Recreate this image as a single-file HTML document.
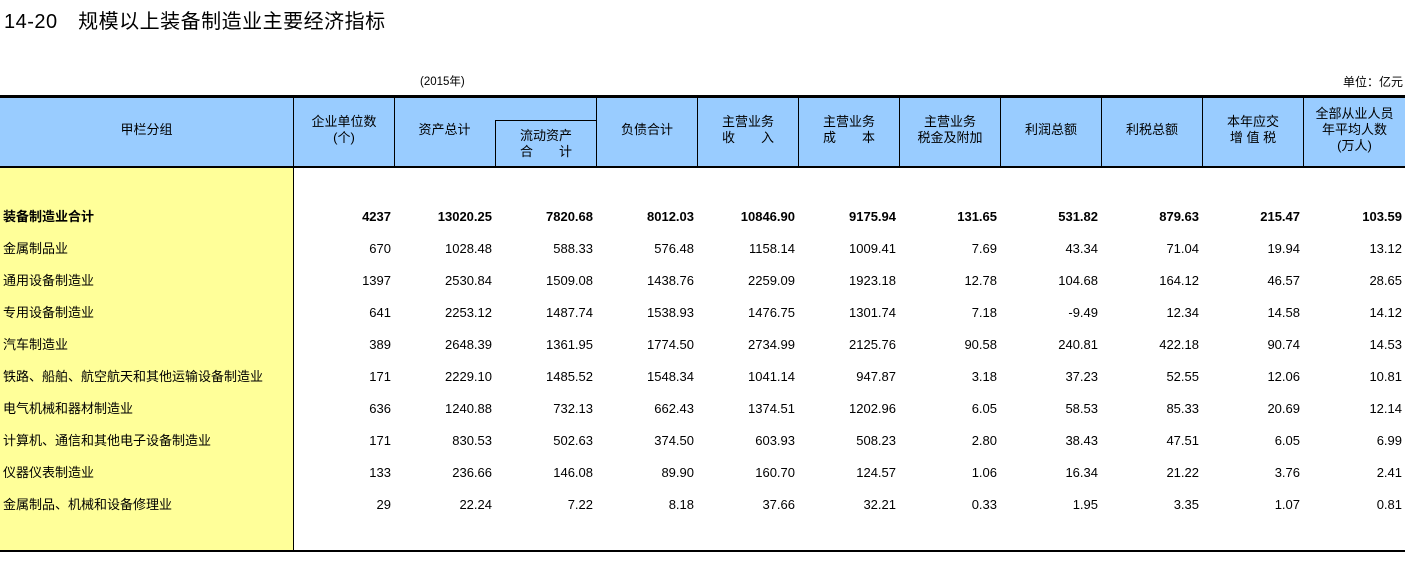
<!DOCTYPE html>
<html><head><meta charset="utf-8"><style>
body{margin:0;width:1405px;height:585px;background:#fff;position:relative;overflow:hidden;font-family:"Liberation Sans","Noto Sans CJK SC",sans-serif;color:#000}
.a{position:absolute}
.t{left:4px;top:5px;font-size:20px;letter-spacing:0.5px}
.hdr{left:0;top:95px;width:1405px;height:73px;background:#99ccff;border-top:3px solid #000;border-bottom:2px solid #000;box-sizing:border-box}
.vl{position:absolute;width:1px;background:#000}
.hc{position:absolute;font-size:13px;line-height:16px;text-align:center;display:flex;align-items:center;justify-content:center}
.yel{left:0;top:168px;width:293px;height:382px;background:#ffff99}
.row{position:absolute;left:0;width:1405px;height:20px;font-size:13px;line-height:20px}
.row span{position:absolute;text-align:right}
.row .n{left:3px;text-align:left}
.b{font-weight:bold}
</style></head><body>
<div class="a t">14-20　规模以上装备制造业主要经济指标</div>
<div class="a" style="left:420px;top:73px;font-size:11.5px">(2015年)</div>
<div class="a" style="right:2px;top:73px;font-size:12px">单位：亿元</div>
<div class="a hdr"></div>
<div class="a yel"></div>
<div class="vl" style="left:293px;top:97px;height:454px"></div>
<div class="vl" style="left:394px;top:97px;height:71px"></div>
<div class="vl" style="left:495px;top:120px;height:48px"></div>
<div class="a" style="left:495px;top:120px;width:101px;height:1px;background:#000"></div>
<div class="vl" style="left:596px;top:97px;height:71px"></div>
<div class="vl" style="left:697px;top:97px;height:71px"></div>
<div class="vl" style="left:798px;top:97px;height:71px"></div>
<div class="vl" style="left:899px;top:97px;height:71px"></div>
<div class="vl" style="left:1000px;top:97px;height:71px"></div>
<div class="vl" style="left:1101px;top:97px;height:71px"></div>
<div class="vl" style="left:1202px;top:97px;height:71px"></div>
<div class="vl" style="left:1303px;top:97px;height:71px"></div>
<div class="hc" style="left:0;top:96px;width:293px;height:68px">甲栏分组</div>
<div class="hc" style="left:294px;top:96px;width:100px;height:68px">企业单位数<br>(个)</div>
<div class="hc" style="left:394px;top:96px;width:101px;height:68px">资产总计</div>
<div class="hc" style="left:496px;top:121px;width:100px;height:46px">流动资产<br>合　　计</div>
<div class="hc" style="left:597px;top:96px;width:100px;height:68px">负债合计</div>
<div class="hc" style="left:698px;top:96px;width:100px;height:68px">主营业务<br>收　　入</div>
<div class="hc" style="left:799px;top:96px;width:100px;height:68px">主营业务<br>成　　本</div>
<div class="hc" style="left:900px;top:96px;width:100px;height:68px">主营业务<br>税金及附加</div>
<div class="hc" style="left:1001px;top:96px;width:100px;height:68px">利润总额</div>
<div class="hc" style="left:1102px;top:96px;width:100px;height:68px">利税总额</div>
<div class="hc" style="left:1203px;top:96px;width:100px;height:68px">本年应交<br>增 值 税</div>
<div class="hc" style="left:1304px;top:96px;width:101px;height:68px">全部从业人员<br>年平均人数<br>(万人)</div>
<div class="a" style="left:0;top:550px;width:1405px;height:2px;background:#000"></div>
<div id="rows"></div>
<script>
var d=[["装备制造业合计","4237","13020.25","7820.68","8012.03","10846.90","9175.94","131.65","531.82","879.63","215.47","103.59"],
["金属制品业","670","1028.48","588.33","576.48","1158.14","1009.41","7.69","43.34","71.04","19.94","13.12"],
["通用设备制造业","1397","2530.84","1509.08","1438.76","2259.09","1923.18","12.78","104.68","164.12","46.57","28.65"],
["专用设备制造业","641","2253.12","1487.74","1538.93","1476.75","1301.74","7.18","-9.49","12.34","14.58","14.12"],
["汽车制造业","389","2648.39","1361.95","1774.50","2734.99","2125.76","90.58","240.81","422.18","90.74","14.53"],
["铁路、船舶、航空航天和其他运输设备制造业","171","2229.10","1485.52","1548.34","1041.14","947.87","3.18","37.23","52.55","12.06","10.81"],
["电气机械和器材制造业","636","1240.88","732.13","662.43","1374.51","1202.96","6.05","58.53","85.33","20.69","12.14"],
["计算机、通信和其他电子设备制造业","171","830.53","502.63","374.50","603.93","508.23","2.80","38.43","47.51","6.05","6.99"],
["仪器仪表制造业","133","236.66","146.08","89.90","160.70","124.57","1.06","16.34","21.22","3.76","2.41"],
["金属制品、机械和设备修理业","29","22.24","7.22","8.18","37.66","32.21","0.33","1.95","3.35","1.07","0.81"]];
var r=[394,495,596,697,798,899,1000,1101,1202,1303,1405],h="";
d.forEach(function(x,i){h+='<div class="row'+(i==0?' b':'')+'" style="top:'+(207+i*32)+'px"><span class="n">'+x[0]+'</span>';
for(var j=1;j<12;j++)h+='<span style="right:'+(1405-r[j-1]+3)+'px">'+x[j]+'</span>';h+='</div>';});
document.getElementById("rows").innerHTML=h;
</script>
</body></html>
